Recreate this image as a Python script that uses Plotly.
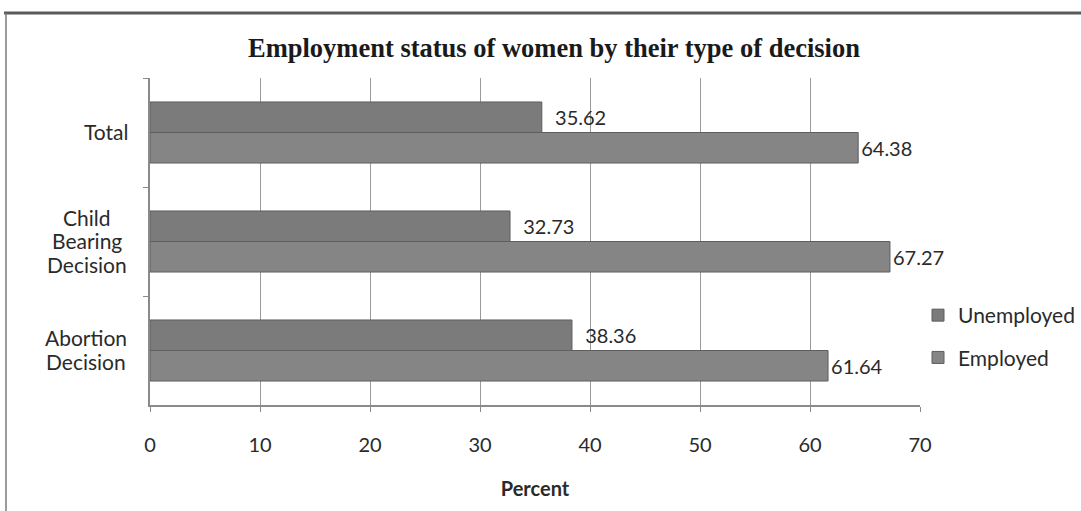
import plotly.graph_objects as go

categories = ["Total", "Child Bearing Decision", "Abortion Decision"]
category_lines = [["Total"], ["Child", "Bearing", "Decision"], ["Abortion", "Decision"]]
unemployed = [35.62, 32.73, 38.36]
employed = [64.38, 67.27, 61.64]
x_ticks = [0, 10, 20, 30, 40, 50, 60, 70]

W, H = 1081, 511
L, R, T, B = 150, 161, 78, 106
PW, PH = W - L - R, H - T - B


def px_x(px):
    return (px - L) / PW


def px_y(py):
    return (H - B - py) / PH


SANS = "Lato, 'Open Sans', sans-serif"
INK = "#2a2a2a"
label_font = dict(family=SANS, size=20, color=INK)

fig = go.Figure()
fig.add_trace(go.Bar(
    name="Unemployed", y=categories, x=unemployed, orientation="h",
    marker=dict(color="#7b7b7b", line=dict(color="#5e5e5e", width=1)),
    text=unemployed, texttemplate="&nbsp;&nbsp;%{x:.2f}", textposition="outside",
    textfont=label_font, cliponaxis=False, legendgroup="u",
))
fig.add_trace(go.Bar(
    name="Employed", y=categories, x=employed, orientation="h",
    marker=dict(color="#858585", line=dict(color="#5e5e5e", width=1)),
    text=employed, texttemplate="%{x:.2f}", textposition="outside",
    textfont=label_font, cliponaxis=False, legendgroup="e",
))

# category labels: each block ends near the axis, lines centred within the block
LINE_STEP = 23.5
block_centres_px = [106, 87, 86]
for cat, lines, cx in zip(categories, category_lines, block_centres_px):
    n = len(lines)
    for i, line in enumerate(lines):
        fig.add_annotation(
            x=px_x(cx), xref="paper", y=cat, yref="y", text=line, showarrow=False,
            xanchor="center", yanchor="middle",
            yshift=-(i - (n - 1) / 2) * LINE_STEP + 1,
            font=dict(family=SANS, size=21, color=INK),
        )

# outer chart frame
fig.add_shape(type="line", xref="paper", yref="paper",
              x0=px_x(4), x1=px_x(1090), y0=px_y(13), y1=px_y(13),
              line=dict(color="#5a5a5a", width=3))
fig.add_shape(type="line", xref="paper", yref="paper",
              x0=px_x(6), x1=px_x(6), y0=px_y(13), y1=px_y(520),
              line=dict(color="#7a7a7a", width=1.5))

fig.update_layout(
    width=W, height=H,
    margin=dict(l=L, r=R, t=T, b=B, autoexpand=False),
    paper_bgcolor="white", plot_bgcolor="white",
    barmode="group", bargap=0.44, bargroupgap=0,
    title=dict(
        text="<b>Employment status of women by their type of decision</b>",
        x=px_x(554), xref="paper", xanchor="center",
        y=1 - 48 / H, yref="container", yanchor="middle",
        font=dict(family="'Liberation Serif', 'DejaVu Serif', serif", size=26.5, color="#1a1a1a"),
    ),
    xaxis=dict(
        range=[0, 70], tickvals=x_ticks, ticktext=[str(t) for t in x_ticks],
        showgrid=True, gridcolor="#9a9a9a", gridwidth=1,
        showline=True, linecolor="#8a8a8a", linewidth=1.5,
        ticks="outside", ticklen=5, tickcolor="#8a8a8a", ticklabelstandoff=16,
        tickfont=dict(family=SANS, size=20, color=INK),
        zeroline=False,
        title=dict(text="<b>Percent</b>", standoff=27,
                   font=dict(family=SANS, size=20, color=INK)),
    ),
    yaxis=dict(
        categoryorder="array", categoryarray=categories, autorange="reversed",
        showticklabels=False, showline=True, linecolor="#8a8a8a", linewidth=1.5,
        ticks="outside", tickson="boundaries", ticklen=5, tickcolor="#8a8a8a",
        showgrid=False,
    ),
    legend=dict(
        x=px_x(918), xanchor="left", y=px_y(295), yanchor="top",
        font=dict(family=SANS, size=21, color=INK),
        tracegroupgap=12, itemwidth=30, bgcolor="rgba(0,0,0,0)",
    ),
    showlegend=True,
)

fig.write_html("out.html")
